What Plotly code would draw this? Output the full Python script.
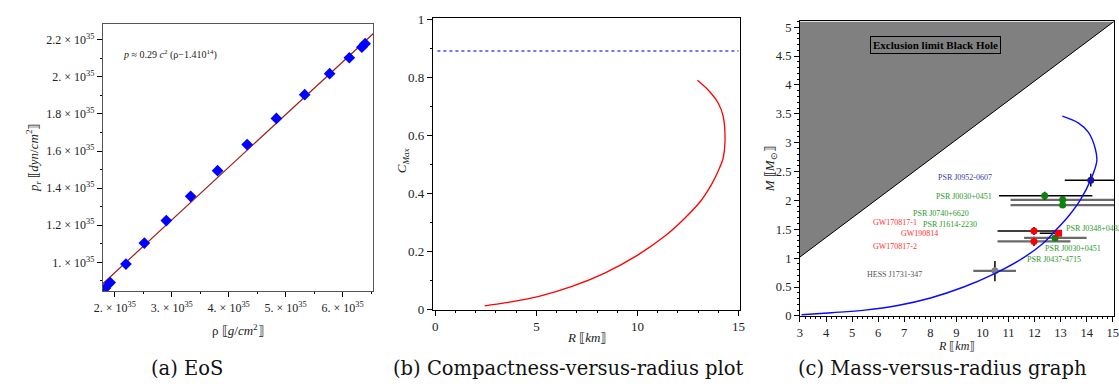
import plotly.graph_objects as go

W, H = 1119, 386

# ---------------- Panel (a): EoS data (units of 1e35) ----------------
rho_pts = [1.832, 1.919, 2.196, 2.519, 2.905, 3.332, 3.805, 4.324, 4.837, 5.334, 5.772, 6.118, 6.337, 6.394]
p_pts = [0.860, 0.891, 0.991, 1.104, 1.225, 1.356, 1.494, 1.635, 1.776, 1.904, 2.017, 2.103, 2.160, 2.179]
rho_fit = [1.79, 6.54]
p_fit = [0.885, 2.234]
a_xticks = [2, 3, 4, 5, 6]
a_xticktext = ["2. × 10<sup>35</sup>", "3. × 10<sup>35</sup>", "4. × 10<sup>35</sup>",
               "5. × 10<sup>35</sup>", "6. × 10<sup>35</sup>"]
a_yticks = [1.0, 1.2, 1.4, 1.6, 1.8, 2.0, 2.2]
a_yticktext = ["1. × 10<sup>35</sup>", "1.2 × 10<sup>35</sup>", "1.4 × 10<sup>35</sup>",
               "1.6 × 10<sup>35</sup>", "1.8 × 10<sup>35</sup>", "2. × 10<sup>35</sup>",
               "2.2 × 10<sup>35</sup>"]

# ---------------- Panel (b): compactness vs radius ----------------
R_c = [2.44, 3.50, 5.13, 6.76, 8.38, 10.01, 11.31, 12.29, 13.11, 13.68, 14.0, 14.24, 14.33, 14.24, 14.0, 13.6, 12.97]
C_c = [0.011, 0.022, 0.044, 0.078, 0.124, 0.186, 0.249, 0.310, 0.371, 0.432, 0.477, 0.521, 0.577, 0.665, 0.710, 0.748, 0.789]
R_lim = [0.1, 15.0]
C_lim = [0.89, 0.89]

# ---------------- Panel (c): mass vs radius ----------------
R_mr = [3.06, 4.22, 5.49, 6.75, 8.01, 9.28, 10.41, 11.55, 12.31, 12.81, 13.31, 13.76, 14.16, 14.39, 14.33, 14.07, 13.69, 13.07]
M_mr = [0.02, 0.055, 0.10, 0.18, 0.31, 0.50, 0.72, 1.0, 1.25, 1.48, 1.73, 2.01, 2.36, 2.68, 2.90, 3.18, 3.34, 3.46]
bh_R = [3.0, 15.05]
bh_M = [1.02, 5.1]

NAVY = "#1c1c8c"
GREEN = "#0d820d"
RED = "#ff0000"
GRAY = "#808080"

# observations with black horizontal error bars
obs1_R = [14.16, 12.39, 11.98, 12.92]
obs1_M = [2.35, 2.08, 1.47, 1.43]
obs1_Rlo = [1.0, 1.75, 1.40, 0.72]
obs1_Rhi = [1.0, 1.83, 0.95, 0.0]
obs1_Mlo = [0.11, 0.07, 0.07, 0.0]
obs1_Mhi = [0.11, 0.07, 0.07, 0.0]
obs1_col = [NAVY, GREEN, RED, RED]
obs1_sym = ["circle", "circle", "circle", "square"]

# observations with gray horizontal error bars
obs2_R = [13.08, 13.08, 11.98, 12.79, 10.48]
obs2_M = [2.01, 1.92, 1.29, 1.35, 0.78]
obs2_Rlo = [2.0, 2.0, 1.40, 1.19, 0.83]
obs2_Rhi = [2.2, 2.2, 1.40, 1.21, 0.81]
obs2_Mlo = [0.0, 0.0, 0.08, 0.05, 0.18]
obs2_Mhi = [0.0, 0.0, 0.08, 0.05, 0.17]
obs2_col = [GREEN, GREEN, RED, GREEN, GRAY]

lab_text = ["PSR J0952-0607", "PSR J0030+0451", "PSR J0740+6620", "GW170817-1", "PSR J1614-2230",
            "GW190814", "GW170817-2", "HESS J1731-347", "PSR J0348+0432", "PSR J0030+0451", "PSR J0437-4715"]
lab_R = [9.34, 9.30, 8.41, 6.64, 8.77, 7.59, 6.66, 6.64, 13.15, 12.31, 11.65]
lab_M = [2.40, 2.06, 1.77, 1.61, 1.58, 1.43, 1.20, 0.72, 1.505, 1.166, 0.98]
lab_col = ["#3a3aa0", "#2a9a2a", "#2a9a2a", "#ff3030", "#2a9a2a", "#ff3030", "#ff3030", "#555555",
           "#2a9a2a", "#2a9a2a", "#2a9a2a"]
lab_anchor = ["center"] * 8 + ["left"] * 3

SERIF = "Liberation Serif"
CAPF = "DejaVu Serif"

fig = go.Figure()

# Panel a
fig.add_trace(go.Scatter(x=rho_fit, y=p_fit, mode="lines", line=dict(color="#9b1c1c", width=1.2),
                         xaxis="x", yaxis="y", showlegend=False))
fig.add_trace(go.Scatter(x=rho_pts, y=p_pts, mode="markers",
                         marker=dict(symbol="diamond", size=9, color="#0000ff"),
                         xaxis="x", yaxis="y", showlegend=False))

# Panel b
fig.add_trace(go.Scatter(x=R_lim, y=C_lim, mode="lines", line=dict(color="#4646ff", width=1.6, dash="dot"),
                         xaxis="x2", yaxis="y2", showlegend=False))
fig.add_trace(go.Scatter(x=R_c, y=C_c, mode="lines", line=dict(color="#ff0000", width=1.3, shape="spline"),
                         xaxis="x2", yaxis="y2", showlegend=False))

# Panel c: black-hole exclusion region
fig.add_trace(go.Scatter(x=bh_R + [bh_R[0]], y=bh_M + [bh_M[1]], mode="lines", fill="toself",
                         fillcolor=GRAY, line=dict(color="rgba(0,0,0,0)", width=0),
                         xaxis="x3", yaxis="y3", showlegend=False, hoverinfo="skip"))
fig.add_trace(go.Scatter(x=bh_R, y=bh_M, mode="lines", line=dict(color="black", width=1),
                         xaxis="x3", yaxis="y3", showlegend=False))
fig.add_trace(go.Scatter(x=obs2_R, y=obs2_M, mode="markers",
                         marker=dict(size=7, color=obs2_col),
                         error_x=dict(type="data", symmetric=False, array=obs2_Rhi, arrayminus=obs2_Rlo,
                                      color="#6a6a6a", thickness=2.2, width=0),
                         error_y=dict(type="data", symmetric=False, array=obs2_Mhi, arrayminus=obs2_Mlo,
                                      color="black", thickness=1.5, width=0),
                         xaxis="x3", yaxis="y3", showlegend=False))
fig.add_trace(go.Scatter(x=obs1_R, y=obs1_M, mode="markers",
                         marker=dict(size=7, color=obs1_col, symbol=obs1_sym),
                         error_x=dict(type="data", symmetric=False, array=obs1_Rhi, arrayminus=obs1_Rlo,
                                      color="black", thickness=1.5, width=0),
                         error_y=dict(type="data", symmetric=False, array=obs1_Mhi, arrayminus=obs1_Mlo,
                                      color="black", thickness=1.5, width=0),
                         xaxis="x3", yaxis="y3", showlegend=False))
fig.add_trace(go.Scatter(x=R_mr, y=M_mr, mode="lines", line=dict(color="#0a0aff", width=1.4, shape="spline"),
                         xaxis="x3", yaxis="y3", showlegend=False))


def ax(domain, rng, anchor, tickfont_size, **kw):
    d = dict(domain=domain, range=rng, anchor=anchor, showline=True, linecolor="black", linewidth=1,
             mirror=True, ticks="outside", ticklen=5, tickcolor="black", showgrid=False, zeroline=False,
             tickfont=dict(family=SERIF, size=tickfont_size, color="#222"))
    d.update(kw)
    return d


minor_style = dict(ticks="outside", ticklen=2, tickcolor="black", showgrid=False)

layout = dict(
    width=W, height=H, margin=dict(l=0, r=0, t=0, b=0, pad=0),
    paper_bgcolor="white", plot_bgcolor="white",
    xaxis=ax([95 / W, 369 / W], [1.79, 6.54], "y", 12, tickmode="array", tickvals=a_xticks,
             ticktext=a_xticktext, minor=dict(tickmode="linear", tick0=2, dtick=0.5, **minor_style),
             linecolor="#555"),
    yaxis=ax([1 - 295 / H, 1 - 18 / H], [0.844, 2.283], "x", 12, tickmode="array", tickvals=a_yticks,
             ticktext=a_yticktext, minor=dict(tickmode="linear", tick0=1.0, dtick=0.1, **minor_style),
             linecolor="#555"),
    xaxis2=ax([429.3 / W, 740 / W], [-0.12, 15.06], "y2", 13, tickmode="linear", tick0=0, dtick=5,
              minor=dict(tickmode="linear", tick0=0, dtick=1, **minor_style)),
    yaxis2=ax([1 - 314 / H, 1 - 11.7 / H], [-0.002, 1.003], "x2", 13, tickmode="linear", tick0=0, dtick=0.2,
              tickformat="~g", minor=dict(tickmode="linear", tick0=0, dtick=0.1, **minor_style)),
    xaxis3=ax([801 / W, 1.0], [3, 15.05], "y3", 12.5, tickmode="linear", tick0=3, dtick=1,
              ticklabeloverflow="allow",
              minor=dict(tickmode="linear", tick0=3, dtick=0.2, **minor_style)),
    yaxis3=ax([1 - 320.5 / H, 1 - 15 / H], [0, 5.1], "x3", 12.5, tickmode="linear", tick0=0, dtick=0.5,
              tickformat="~g", minor=dict(tickmode="linear", tick0=0, dtick=0.1, **minor_style)),
)
fig.update_layout(**layout)


def pap(x, y):
    return dict(x=x / W, y=1 - y / H, xref="paper", yref="paper", xanchor="center", yanchor="middle")


anns = []
tfont = dict(family=SERIF, size=13, color="#222")
# panel a
anns.append(dict(**pap(25, 157), text="<i>p<sub>r</sub></i> ⟦<i>dyn</i>/<i>cm</i><sup>2</sup>⟧",
                 textangle=-90, showarrow=False, font=tfont))
anns.append(dict(**pap(232, 335), text="ρ ⟦<i>g</i>/<i>cm</i><sup>2</sup>⟧", showarrow=False, font=tfont))
ann_eq = pap(113, 49)
ann_eq["xanchor"] = "left"
anns.append(dict(**ann_eq, text="<i>p</i> ≈ 0.29 <i>c</i><sup>2</sup> (ρ−1.410<sup>14</sup>)",
                 showarrow=False, font=dict(family=SERIF, size=10, color="#222")))
# panel b
anns.append(dict(**pap(398, 160), text="<i>C<sub>Max</sub></i>", textangle=-90, showarrow=False, font=tfont))
anns.append(dict(**pap(585, 343), text="<i>R</i> ⟦<i>km</i>⟧", showarrow=False, font=tfont))
# panel c
anns.append(dict(**pap(772, 168), text="<i>M</i> ⟦<i>M</i><sub>⊙</sub>⟧", textangle=-90,
                 showarrow=False, font=tfont))
anns.append(dict(**pap(959, 352), text="<i>R</i> ⟦<i>km</i>⟧", showarrow=False,
                 font=dict(family=SERIF, size=12, color="#222")))
anns.append(dict(x=8.19, y=4.69, xref="x3", yref="y3", xanchor="center", yanchor="middle",
                 text="<b>Exclusion limit Black Hole</b>",
                 showarrow=False, bgcolor=GRAY, bordercolor="black", borderwidth=1, borderpad=2,
                 font=dict(family=SERIF, size=11, color="black")))
for t, r, m, c, a in zip(lab_text, lab_R, lab_M, lab_col, lab_anchor):
    anns.append(dict(x=r, y=m, xref="x3", yref="y3", text=t, xanchor=a, yanchor="middle", showarrow=False,
                     font=dict(family=SERIF, size=8, color=c)))
# captions
capf = dict(family=CAPF, size=19.5, color="#111")
anns.append(dict(**pap(180, 375), text="(a) EoS", showarrow=False, font=capf))
anns.append(dict(**pap(567, 375), text="(b) Compactness-versus-radius plot", showarrow=False, font=capf))
anns.append(dict(**pap(945, 375), text="(c) Mass-versus-radius graph", showarrow=False, font=capf))

fig.update_layout(annotations=anns)
fig.write_html("out.html")
